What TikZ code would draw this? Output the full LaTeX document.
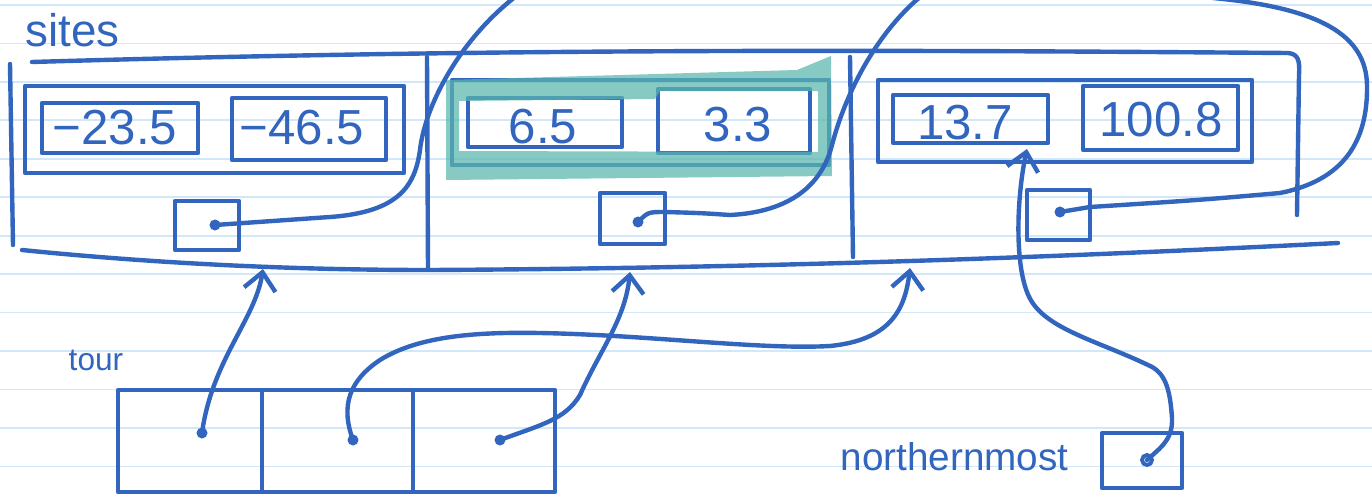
\documentclass[tikz,border=0pt]{standalone}
\usepackage{fontspec}
\setmainfont{Liberation Sans}
\usetikzlibrary{fit,arrows.meta}
\definecolor{ink}{RGB}{50,102,190}
\definecolor{rulec}{RGB}{208,232,249}
\definecolor{hl}{RGB}{88,182,172}
\begin{document}
\begin{tikzpicture}[x=0.01cm,y=-0.01cm,
  inkline/.style={draw=ink,line width=1.25pt,line cap=round,line join=round},
  boxn/.style={inkline,inner sep=0pt},
  hidden/.style={inner sep=0pt,draw=none},
  dotn/.style={circle,fill=ink,inner sep=0pt,minimum size=0.11cm},
  hdot/.style={circle,draw=ink,line width=1.1pt,inner sep=0pt,minimum size=0.1cm},
  val/.style={text=ink,font=\fontsize{14}{16}\selectfont,inner sep=0pt},
  lbl/.style={text=ink,inner sep=0pt},
  conn/.style={draw=ink,line width=1.25pt,line cap=round,line join=round},
  arr/.style={conn,-{Straight Barb[length=5pt,width=9pt]}},
]
\useasboundingbox (0,0) rectangle (1372,500);
\fill[white] (0,0) rectangle (1372,500);
\foreach \k in {0,...,12} \draw[rulec,line width=0.5pt] (0,{5+38.45*\k}) -- (1372,{5+38.45*\k});

% sites array frame
\node[hidden,fit={(10,56) (1300,262)}] (sites) {};
\node[lbl,anchor=base west,font=\fontsize{13}{15}\selectfont] (sitesl) at (25,47) {sites};
\draw[inkline] (10,64) -- (13,245);
\draw[inkline] (32,62) .. controls (500,48) and (900,50) .. (1288,53) .. controls (1298,54) and (1300,60) .. (1299,75) -- (1297,215);
\draw[inkline] (22,250) .. controls (200,268) and (350,270) .. (430,270) .. controls (800,268) and (1100,255) .. (1338,243);
\draw[inkline] (427,57) -- (428,270);
\draw[inkline] (850,57) -- (853,257);

% cell 1
\node[boxn,fit={(25,86) (404,173)}] (st1) {};
\node[boxn,fit={(42,103) (198,153)}] (v11) {};
\node[boxn,fit={(232,98) (386,160)}] (v12) {};
\node[boxn,fit={(175,201) (239,250)}] (p1) {};
\node[val] (n11) at (115,128) {−23.5};
\node[val] (n12) at (302,128) {−46.5};
\node[dotn] (d1) at (215,225) {};

% cell 2
\node[boxn,fit={(452,80) (829,165)}] (st2) {};
\node[boxn,fit={(468,98) (622,147)}] (v21) {};
\node[boxn,fit={(658,89) (810,153)}] (v22) {};
\node[boxn,fit={(600,193) (665,244)}] (p2) {};
\node[val] (n21) at (543,127) {6.5};
\node[val] (n22) at (738,125) {3.3};
\node[dotn] (d2) at (638,222) {};
\fill[hl,opacity=0.72,even odd rule] (446,80) -- (797,70) -- (831,56) -- (832,176) -- (446,180) -- cycle
  (459,101) -- (655,99) -- (660,91) -- (818,91) -- (818,152) -- (459,151) -- cycle;

% cell 3
\node[boxn,fit={(878,80) (1252,162)}] (st3) {};
\node[boxn,fit={(893,95) (1048,143)}] (v31) {};
\node[boxn,fit={(1083,86) (1238,150)}] (v32) {};
\node[boxn,fit={(1027,190) (1090,240)}] (p3) {};
\node[val] (n31) at (965,123) {13.7};
\node[val] (n32) at (1161,120) {100.8};
\node[dotn] (d3) at (1060,212) {};

% next pointers
\coordinate (e1) at (515,-3);
\coordinate (e2) at (920,-3);
\coordinate (e3) at (1213,-2);
\draw[conn] (d1.center) -- (330,217) .. controls (400,212) and (415,185) .. (420,150) .. controls (425,105) and (460,40) .. (e1);
\draw[conn] (d2.center) .. controls (648,212) .. (665,212) .. controls (700,213) .. (730,215) .. controls (790,212) and (822,185) .. (832,145) .. controls (845,95) and (875,35) .. (e2);
\draw[conn] (d3.center) -- (1090,207) .. controls (1200,200) .. (1280,193) .. controls (1345,180) and (1368,140) .. (1367,85) .. controls (1366,35) and (1320,8) .. (e3);

% tour array
\node[lbl,anchor=base west,font=\fontsize{9}{11}\selectfont] (tourl) at (68,370) {tour};
\node[boxn,fit={(118,390) (262,492)}] (t1) {};
\node[boxn,fit={(262,390) (413,492)}] (t2) {};
\node[boxn,fit={(413,390) (555,492)}] (t3) {};
\node[dotn] (td1) at (202,433) {};
\node[dotn] (td2) at (353,440) {};
\node[dotn] (td3) at (500,440) {};
\coordinate (s1) at (263,269);
\coordinate (s2) at (630,272);
\coordinate (s3) at (910,268);
\draw[arr] (td1.center) .. controls (212,360) and (255,320) .. (s1);
\draw[arr] (td2.center) .. controls (340,405) and (350,380) .. (380,360) .. controls (420,335) and (480,332) .. (540,333) .. controls (650,335) and (760,350) .. (830,346) .. controls (890,340) and (905,310) .. (s3);
\draw[arr] (td3.center) .. controls (540,425) and (565,420) .. (580,395) .. controls (600,350) and (625,320) .. (s2);

% northernmost
\node[lbl,anchor=base west,font=\fontsize{11}{13}\selectfont] (nml) at (840,470) {northernmost};
\node[boxn,fit={(1102,433) (1182,488)}] (nm) {};
\node[hdot] (nmd) at (1147,460) {};
\coordinate (tc) at (1027,149);
\draw[arr] (nmd.center) .. controls (1160,448) and (1173,440) .. (1172,418) .. controls (1170,388) and (1165,372) .. (1148,365) .. controls (1100,342) and (1050,330) .. (1032,302) .. controls (1014,275) and (1016,200) .. (tc);
\end{tikzpicture}
\end{document}
